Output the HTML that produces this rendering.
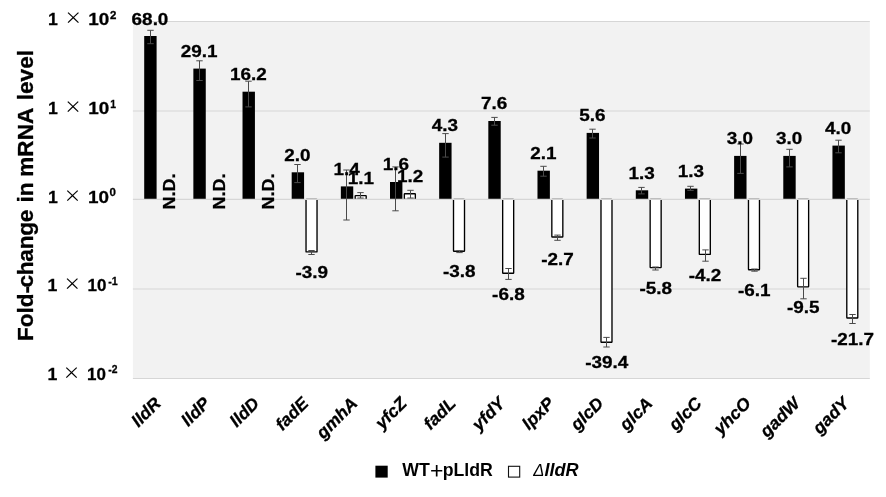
<!DOCTYPE html>
<html lang="en"><head><meta charset="utf-8"><title>Fold-change in mRNA level</title>
<style>html,body{margin:0;padding:0;background:#fff}body{width:886px;height:497px;overflow:hidden}svg{display:block;filter:blur(0.3px)}</style>
</head><body>
<svg width="886" height="497" viewBox="0 0 886 497" font-family="'Liberation Sans', sans-serif" fill="#000">
<rect x="0" y="0" width="886" height="497" fill="#fff"/>
<g id="shapes">
<rect x="132.9" y="21.50" width="736.90" height="357.00" fill="#f2f2f2"/>
<line x1="132.9" x2="869.8" y1="378.50" y2="378.50" stroke="#d6d6d6" stroke-width="1.2"/>
<line x1="132.9" x2="869.8" y1="289.00" y2="289.00" stroke="#d6d6d6" stroke-width="1.2"/>
<line x1="132.9" x2="869.8" y1="111.00" y2="111.00" stroke="#d6d6d6" stroke-width="1.2"/>
<line x1="132.9" x2="869.8" y1="21.50" y2="21.50" stroke="#d6d6d6" stroke-width="1.2"/>
<rect x="144.20" y="36.00" width="12.40" height="163.40" fill="#000"/>
<rect x="193.36" y="68.60" width="12.40" height="130.80" fill="#000"/>
<rect x="242.52" y="91.70" width="12.40" height="107.70" fill="#000"/>
<rect x="291.68" y="172.30" width="12.40" height="27.10" fill="#000"/>
<rect x="306.03" y="199.40" width="11.00" height="52.50" fill="#fff" stroke="#000" stroke-width="1.35" rx="0.5"/>
<rect x="340.84" y="186.40" width="12.40" height="13.00" fill="#000"/>
<rect x="355.19" y="195.60" width="11.00" height="3.80" fill="#fff" stroke="#000" stroke-width="1.35" rx="0.5"/>
<rect x="390.00" y="182.00" width="12.40" height="17.40" fill="#000"/>
<rect x="404.35" y="193.70" width="11.00" height="5.70" fill="#fff" stroke="#000" stroke-width="1.35" rx="0.5"/>
<rect x="439.16" y="142.80" width="12.40" height="56.60" fill="#000"/>
<rect x="453.51" y="199.40" width="11.00" height="51.90" fill="#fff" stroke="#000" stroke-width="1.35" rx="0.5"/>
<rect x="488.32" y="121.00" width="12.40" height="78.40" fill="#000"/>
<rect x="502.67" y="199.40" width="11.00" height="73.80" fill="#fff" stroke="#000" stroke-width="1.35" rx="0.5"/>
<rect x="537.48" y="170.70" width="12.40" height="28.70" fill="#000"/>
<rect x="551.83" y="199.40" width="11.00" height="37.60" fill="#fff" stroke="#000" stroke-width="1.35" rx="0.5"/>
<rect x="586.64" y="132.90" width="12.40" height="66.50" fill="#000"/>
<rect x="600.99" y="199.40" width="11.00" height="142.80" fill="#fff" stroke="#000" stroke-width="1.35" rx="0.5"/>
<rect x="635.80" y="190.30" width="12.40" height="9.10" fill="#000"/>
<rect x="650.15" y="199.40" width="11.00" height="68.20" fill="#fff" stroke="#000" stroke-width="1.35" rx="0.5"/>
<rect x="684.96" y="188.60" width="12.40" height="10.80" fill="#000"/>
<rect x="699.31" y="199.40" width="11.00" height="55.00" fill="#fff" stroke="#000" stroke-width="1.35" rx="0.5"/>
<rect x="734.12" y="155.90" width="12.40" height="43.50" fill="#000"/>
<rect x="748.47" y="199.40" width="11.00" height="70.30" fill="#fff" stroke="#000" stroke-width="1.35" rx="0.5"/>
<rect x="783.28" y="155.90" width="12.40" height="43.50" fill="#000"/>
<rect x="797.63" y="199.40" width="11.00" height="87.40" fill="#fff" stroke="#000" stroke-width="1.35" rx="0.5"/>
<rect x="832.44" y="145.60" width="12.40" height="53.80" fill="#000"/>
<rect x="846.79" y="199.40" width="11.00" height="118.60" fill="#fff" stroke="#000" stroke-width="1.35" rx="0.5"/>
<line x1="132.9" x2="869.8" y1="199.40" y2="199.40" stroke="#d6d6d6" stroke-width="1.2"/>
<path d="M150.50 30.30V43.70M147.30 30.30h6.4M147.30 43.70h6.4" stroke="#4a4a4a" stroke-width="1" fill="none"/>
<path d="M199.50 60.80V80.50M196.30 60.80h6.4M196.30 80.50h6.4" stroke="#4a4a4a" stroke-width="1" fill="none"/>
<path d="M248.50 81.20V106.90M245.30 81.20h6.4M245.30 106.90h6.4" stroke="#4a4a4a" stroke-width="1" fill="none"/>
<path d="M297.50 164.50V182.60M294.30 164.50h6.4M294.30 182.60h6.4" stroke="#4a4a4a" stroke-width="1" fill="none"/>
<path d="M311.50 250.50V254.50M308.30 250.50h6.4M308.30 254.50h6.4" stroke="#4a4a4a" stroke-width="1" fill="none"/>
<path d="M346.50 170.00V220.00M343.30 170.00h6.4M343.30 220.00h6.4" stroke="#4a4a4a" stroke-width="1" fill="none"/>
<path d="M360.50 192.60V198.00M357.30 192.60h6.4M357.30 198.00h6.4" stroke="#4a4a4a" stroke-width="1" fill="none"/>
<path d="M395.50 166.90V210.80M392.30 166.90h6.4M392.30 210.80h6.4" stroke="#4a4a4a" stroke-width="1" fill="none"/>
<path d="M410.50 190.30V198.00M407.30 190.30h6.4M407.30 198.00h6.4" stroke="#4a4a4a" stroke-width="1" fill="none"/>
<path d="M445.50 133.60V157.10M442.30 133.60h6.4M442.30 157.10h6.4" stroke="#4a4a4a" stroke-width="1" fill="none"/>
<path d="M459.50 250.80V252.60M456.30 250.80h6.4M456.30 252.60h6.4" stroke="#4a4a4a" stroke-width="1" fill="none"/>
<path d="M494.50 117.40V125.20M491.30 117.40h6.4M491.30 125.20h6.4" stroke="#4a4a4a" stroke-width="1" fill="none"/>
<path d="M508.50 268.50V279.40M505.30 268.50h6.4M505.30 279.40h6.4" stroke="#4a4a4a" stroke-width="1" fill="none"/>
<path d="M543.50 166.30V176.20M540.30 166.30h6.4M540.30 176.20h6.4" stroke="#4a4a4a" stroke-width="1" fill="none"/>
<path d="M557.50 235.10V240.30M554.30 235.10h6.4M554.30 240.30h6.4" stroke="#4a4a4a" stroke-width="1" fill="none"/>
<path d="M592.50 129.20V138.00M589.30 129.20h6.4M589.30 138.00h6.4" stroke="#4a4a4a" stroke-width="1" fill="none"/>
<path d="M606.50 337.40V347.00M603.30 337.40h6.4M603.30 347.00h6.4" stroke="#4a4a4a" stroke-width="1" fill="none"/>
<path d="M641.50 187.40V193.90M638.30 187.40h6.4M638.30 193.90h6.4" stroke="#4a4a4a" stroke-width="1" fill="none"/>
<path d="M655.50 267.00V270.00M652.30 267.00h6.4M652.30 270.00h6.4" stroke="#4a4a4a" stroke-width="1" fill="none"/>
<path d="M690.50 186.30V190.40M687.30 186.30h6.4M687.30 190.40h6.4" stroke="#4a4a4a" stroke-width="1" fill="none"/>
<path d="M705.50 249.90V261.20M702.30 249.90h6.4M702.30 261.20h6.4" stroke="#4a4a4a" stroke-width="1" fill="none"/>
<path d="M740.50 144.00V173.40M737.30 144.00h6.4M737.30 173.40h6.4" stroke="#4a4a4a" stroke-width="1" fill="none"/>
<path d="M754.50 269.00V271.20M751.30 269.00h6.4M751.30 271.20h6.4" stroke="#4a4a4a" stroke-width="1" fill="none"/>
<path d="M789.50 149.30V166.90M786.30 149.30h6.4M786.30 166.90h6.4" stroke="#4a4a4a" stroke-width="1" fill="none"/>
<path d="M803.50 278.30V298.80M800.30 278.30h6.4M800.30 298.80h6.4" stroke="#4a4a4a" stroke-width="1" fill="none"/>
<path d="M838.50 140.20V152.80M835.30 140.20h6.4M835.30 152.80h6.4" stroke="#4a4a4a" stroke-width="1" fill="none"/>
<path d="M852.50 314.50V323.50M849.30 314.50h6.4M849.30 323.50h6.4" stroke="#4a4a4a" stroke-width="1" fill="none"/>
</g>
<g id="labels">
<text transform="translate(150.00 24.90) scale(1.0500 0.9600)" text-anchor="middle" font-size="18.0" font-weight="bold"  stroke="#000" stroke-width="0.3">68.0</text>
<text transform="translate(175.40 209.40) rotate(-90) scale(0.9950 0.9600)" text-anchor="start" font-size="18.0" font-weight="bold"  stroke="#000" stroke-width="0.3">N.D.</text>
<text transform="translate(161.98 404.40) rotate(-45) scale(0.9800 0.9600)" text-anchor="end" font-size="18.0" font-weight="bold" font-style="italic" stroke="#000" stroke-width="0.3">lldR</text>
<text transform="translate(199.16 57.00) scale(1.0500 0.9600)" text-anchor="middle" font-size="18.0" font-weight="bold"  stroke="#000" stroke-width="0.3">29.1</text>
<text transform="translate(224.56 209.40) rotate(-90) scale(0.9950 0.9600)" text-anchor="start" font-size="18.0" font-weight="bold"  stroke="#000" stroke-width="0.3">N.D.</text>
<text transform="translate(211.14 404.40) rotate(-45) scale(0.9800 0.9600)" text-anchor="end" font-size="18.0" font-weight="bold" font-style="italic" stroke="#000" stroke-width="0.3">lldP</text>
<text transform="translate(248.32 80.10) scale(1.0500 0.9600)" text-anchor="middle" font-size="18.0" font-weight="bold"  stroke="#000" stroke-width="0.3">16.2</text>
<text transform="translate(273.72 209.40) rotate(-90) scale(0.9950 0.9600)" text-anchor="start" font-size="18.0" font-weight="bold"  stroke="#000" stroke-width="0.3">N.D.</text>
<text transform="translate(260.30 404.40) rotate(-45) scale(0.9800 0.9600)" text-anchor="end" font-size="18.0" font-weight="bold" font-style="italic" stroke="#000" stroke-width="0.3">lldD</text>
<text transform="translate(297.48 160.70) scale(1.0500 0.9600)" text-anchor="middle" font-size="18.0" font-weight="bold"  stroke="#000" stroke-width="0.3">2.0</text>
<text transform="translate(311.73 278.10) scale(1.0500 0.9600)" text-anchor="middle" font-size="18.0" font-weight="bold"  stroke="#000" stroke-width="0.3">-3.9</text>
<text transform="translate(309.46 404.40) rotate(-45) scale(0.9800 0.9600)" text-anchor="end" font-size="18.0" font-weight="bold" font-style="italic" stroke="#000" stroke-width="0.3">fadE</text>
<text transform="translate(346.64 174.80) scale(1.0500 0.9600)" text-anchor="middle" font-size="18.0" font-weight="bold"  stroke="#000" stroke-width="0.3">1.4</text>
<text transform="translate(360.89 183.60) scale(1.0500 0.9600)" text-anchor="middle" font-size="18.0" font-weight="bold"  stroke="#000" stroke-width="0.3">1.1</text>
<text transform="translate(358.62 404.40) rotate(-45) scale(0.9800 0.9600)" text-anchor="end" font-size="18.0" font-weight="bold" font-style="italic" stroke="#000" stroke-width="0.3">gmhA</text>
<text transform="translate(395.80 170.40) scale(1.0500 0.9600)" text-anchor="middle" font-size="18.0" font-weight="bold"  stroke="#000" stroke-width="0.3">1.6</text>
<text transform="translate(410.05 181.70) scale(1.0500 0.9600)" text-anchor="middle" font-size="18.0" font-weight="bold"  stroke="#000" stroke-width="0.3">1.2</text>
<text transform="translate(407.78 404.40) rotate(-45) scale(0.9800 0.9600)" text-anchor="end" font-size="18.0" font-weight="bold" font-style="italic" stroke="#000" stroke-width="0.3">yfcZ</text>
<text transform="translate(444.96 131.20) scale(1.0500 0.9600)" text-anchor="middle" font-size="18.0" font-weight="bold"  stroke="#000" stroke-width="0.3">4.3</text>
<text transform="translate(459.21 277.40) scale(1.0500 0.9600)" text-anchor="middle" font-size="18.0" font-weight="bold"  stroke="#000" stroke-width="0.3">-3.8</text>
<text transform="translate(456.94 404.40) rotate(-45) scale(0.9800 0.9600)" text-anchor="end" font-size="18.0" font-weight="bold" font-style="italic" stroke="#000" stroke-width="0.3">fadL</text>
<text transform="translate(494.12 109.40) scale(1.0500 0.9600)" text-anchor="middle" font-size="18.0" font-weight="bold"  stroke="#000" stroke-width="0.3">7.6</text>
<text transform="translate(508.37 299.50) scale(1.0500 0.9600)" text-anchor="middle" font-size="18.0" font-weight="bold"  stroke="#000" stroke-width="0.3">-6.8</text>
<text transform="translate(506.10 404.40) rotate(-45) scale(0.9800 0.9600)" text-anchor="end" font-size="18.0" font-weight="bold" font-style="italic" stroke="#000" stroke-width="0.3">yfdY</text>
<text transform="translate(543.28 159.10) scale(1.0500 0.9600)" text-anchor="middle" font-size="18.0" font-weight="bold"  stroke="#000" stroke-width="0.3">2.1</text>
<text transform="translate(557.53 264.50) scale(1.0500 0.9600)" text-anchor="middle" font-size="18.0" font-weight="bold"  stroke="#000" stroke-width="0.3">-2.7</text>
<text transform="translate(555.26 404.40) rotate(-45) scale(0.9800 0.9600)" text-anchor="end" font-size="18.0" font-weight="bold" font-style="italic" stroke="#000" stroke-width="0.3">lpxP</text>
<text transform="translate(592.44 121.30) scale(1.0500 0.9600)" text-anchor="middle" font-size="18.0" font-weight="bold"  stroke="#000" stroke-width="0.3">5.6</text>
<text transform="translate(606.69 368.00) scale(1.0500 0.9600)" text-anchor="middle" font-size="18.0" font-weight="bold"  stroke="#000" stroke-width="0.3">-39.4</text>
<text transform="translate(604.42 404.40) rotate(-45) scale(0.9800 0.9600)" text-anchor="end" font-size="18.0" font-weight="bold" font-style="italic" stroke="#000" stroke-width="0.3">glcD</text>
<text transform="translate(641.60 178.70) scale(1.0500 0.9600)" text-anchor="middle" font-size="18.0" font-weight="bold"  stroke="#000" stroke-width="0.3">1.3</text>
<text transform="translate(655.85 293.70) scale(1.0500 0.9600)" text-anchor="middle" font-size="18.0" font-weight="bold"  stroke="#000" stroke-width="0.3">-5.8</text>
<text transform="translate(653.58 404.40) rotate(-45) scale(0.9800 0.9600)" text-anchor="end" font-size="18.0" font-weight="bold" font-style="italic" stroke="#000" stroke-width="0.3">glcA</text>
<text transform="translate(690.76 177.00) scale(1.0500 0.9600)" text-anchor="middle" font-size="18.0" font-weight="bold"  stroke="#000" stroke-width="0.3">1.3</text>
<text transform="translate(705.01 281.30) scale(1.0500 0.9600)" text-anchor="middle" font-size="18.0" font-weight="bold"  stroke="#000" stroke-width="0.3">-4.2</text>
<text transform="translate(702.74 404.40) rotate(-45) scale(0.9800 0.9600)" text-anchor="end" font-size="18.0" font-weight="bold" font-style="italic" stroke="#000" stroke-width="0.3">glcC</text>
<text transform="translate(739.92 144.30) scale(1.0500 0.9600)" text-anchor="middle" font-size="18.0" font-weight="bold"  stroke="#000" stroke-width="0.3">3.0</text>
<text transform="translate(754.17 296.10) scale(1.0500 0.9600)" text-anchor="middle" font-size="18.0" font-weight="bold"  stroke="#000" stroke-width="0.3">-6.1</text>
<text transform="translate(751.90 404.40) rotate(-45) scale(0.9800 0.9600)" text-anchor="end" font-size="18.0" font-weight="bold" font-style="italic" stroke="#000" stroke-width="0.3">yhcO</text>
<text transform="translate(789.08 144.30) scale(1.0500 0.9600)" text-anchor="middle" font-size="18.0" font-weight="bold"  stroke="#000" stroke-width="0.3">3.0</text>
<text transform="translate(803.33 312.50) scale(1.0500 0.9600)" text-anchor="middle" font-size="18.0" font-weight="bold"  stroke="#000" stroke-width="0.3">-9.5</text>
<text transform="translate(801.06 404.40) rotate(-45) scale(0.9800 0.9600)" text-anchor="end" font-size="18.0" font-weight="bold" font-style="italic" stroke="#000" stroke-width="0.3">gadW</text>
<text transform="translate(838.24 134.00) scale(1.0500 0.9600)" text-anchor="middle" font-size="18.0" font-weight="bold"  stroke="#000" stroke-width="0.3">4.0</text>
<text transform="translate(852.49 345.00) scale(1.0500 0.9600)" text-anchor="middle" font-size="18.0" font-weight="bold"  stroke="#000" stroke-width="0.3">-21.7</text>
<text transform="translate(850.22 404.40) rotate(-45) scale(0.9800 0.9600)" text-anchor="end" font-size="18.0" font-weight="bold" font-style="italic" stroke="#000" stroke-width="0.3">gadY</text>
</g>
<g id="axis">
<text transform="translate(48.00 25.20) scale(0.9800 0.9600)" text-anchor="start" font-size="18.0" font-weight="bold"  stroke="#000" stroke-width="0.3">1</text>
<text transform="translate(73.30 24.20) scale(1.0000 0.9600)" text-anchor="middle" font-size="17.5" font-weight="normal" font-family="'Noto Sans CJK JP','DejaVu Sans Light','DejaVu Sans',sans-serif" >×</text>
<text transform="translate(88.30 25.20) scale(1.0500 0.9600)" text-anchor="start" font-size="18.0" font-weight="bold"  stroke="#000" stroke-width="0.3">10</text>
<text transform="translate(109.90 18.90) scale(1.0000 0.9600)" text-anchor="start" font-size="11.5" font-weight="bold"  stroke="#000" stroke-width="0.3">2</text>
<text transform="translate(48.00 114.20) scale(0.9800 0.9600)" text-anchor="start" font-size="18.0" font-weight="bold"  stroke="#000" stroke-width="0.3">1</text>
<text transform="translate(73.10 113.20) scale(1.0000 0.9600)" text-anchor="middle" font-size="17.5" font-weight="normal" font-family="'Noto Sans CJK JP','DejaVu Sans Light','DejaVu Sans',sans-serif" >×</text>
<text transform="translate(88.30 114.20) scale(1.0500 0.9600)" text-anchor="start" font-size="18.0" font-weight="bold"  stroke="#000" stroke-width="0.3">10</text>
<text transform="translate(110.30 107.90) scale(0.9000 0.9600)" text-anchor="start" font-size="11.5" font-weight="bold"  stroke="#000" stroke-width="0.3">1</text>
<text transform="translate(48.00 202.70) scale(0.9800 0.9600)" text-anchor="start" font-size="18.0" font-weight="bold"  stroke="#000" stroke-width="0.3">1</text>
<text transform="translate(72.50 201.70) scale(1.0000 0.9600)" text-anchor="middle" font-size="17.5" font-weight="normal" font-family="'Noto Sans CJK JP','DejaVu Sans Light','DejaVu Sans',sans-serif" >×</text>
<text transform="translate(88.10 202.70) scale(1.0500 0.9600)" text-anchor="start" font-size="18.0" font-weight="bold"  stroke="#000" stroke-width="0.3">10</text>
<text transform="translate(109.40 196.40) scale(1.0000 0.9600)" text-anchor="start" font-size="11.5" font-weight="bold"  stroke="#000" stroke-width="0.3">0</text>
<text transform="translate(47.50 291.20) scale(0.9800 0.9600)" text-anchor="start" font-size="18.0" font-weight="bold"  stroke="#000" stroke-width="0.3">1</text>
<text transform="translate(72.20 290.20) scale(1.0000 0.9600)" text-anchor="middle" font-size="17.5" font-weight="normal" font-family="'Noto Sans CJK JP','DejaVu Sans Light','DejaVu Sans',sans-serif" >×</text>
<text transform="translate(87.50 291.20) scale(0.9450 0.9600)" text-anchor="start" font-size="18.0" font-weight="bold"  stroke="#000" stroke-width="0.3">10</text>
<text transform="translate(108.20 284.90) scale(0.9300 0.9600)" text-anchor="start" font-size="11.5" font-weight="bold"  stroke="#000" stroke-width="0.3">-1</text>
<text transform="translate(47.50 379.70) scale(0.9800 0.9600)" text-anchor="start" font-size="18.0" font-weight="bold"  stroke="#000" stroke-width="0.3">1</text>
<text transform="translate(71.50 378.70) scale(1.0000 0.9600)" text-anchor="middle" font-size="17.5" font-weight="normal" font-family="'Noto Sans CJK JP','DejaVu Sans Light','DejaVu Sans',sans-serif" >×</text>
<text transform="translate(87.00 379.70) scale(0.9450 0.9600)" text-anchor="start" font-size="18.0" font-weight="bold"  stroke="#000" stroke-width="0.3">10</text>
<text transform="translate(108.20 373.40) scale(0.9000 0.9600)" text-anchor="start" font-size="11.5" font-weight="bold"  stroke="#000" stroke-width="0.3">-2</text>
<text transform="translate(33.2 341) rotate(-90) scale(1.05 1)" font-size="21.5" font-weight="bold" stroke="#000" stroke-width="0.3" xml:space="preserve"><tspan x="0.00" letter-spacing="0">Fold-</tspan><tspan x="50.86" letter-spacing="-0.2">change </tspan><tspan x="131.90" letter-spacing="0">in </tspan><tspan x="156.38" letter-spacing="0.05">mRNA </tspan><tspan x="229.33" letter-spacing="0">level</tspan></text>
</g>
<g id="legend">
<rect x="375.4" y="465.7" width="12.3" height="11.9" fill="#000"/>
<rect x="508.5" y="466.3" width="11.2" height="10.8" fill="#fff" stroke="#111" stroke-width="1.1"/>
<text transform="translate(402.2 476.2) scale(1.012 1)" font-size="17.5" font-weight="bold">WT<tspan font-weight="normal" font-size="23" dy="2.6" dx="0.6" font-family="'Noto Sans CJK JP','DejaVu Sans',sans-serif">+</tspan><tspan dy="-2.6" dx="-0.5">pLldR</tspan></text>
<text transform="translate(533.3 476.2) scale(1.035 1)" font-size="17.5" font-style="italic"><tspan font-size="16" font-weight="normal">Δ</tspan><tspan font-weight="bold">lldR</tspan></text>
</g>
</svg>
</body></html>
